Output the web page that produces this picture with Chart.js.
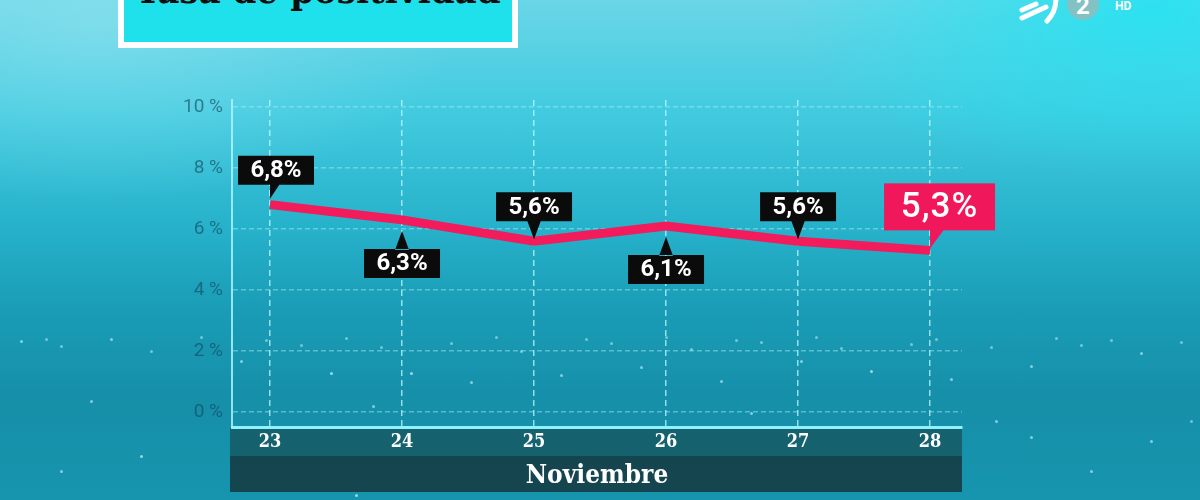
<!DOCTYPE html>
<html lang="es">
<head>
<meta charset="utf-8">
<title>Tasa de positividad</title>
<script src="https://cdn.jsdelivr.net/npm/chart.js@4.4.1/dist/chart.umd.min.js"></script>
<style>
    html, body { margin: 0; padding: 0; }
    body {
        width: 1200px; height: 500px; overflow: hidden; position: relative;
        background:
            radial-gradient(ellipse 520px 260px at 8% 4%, rgba(160, 232, 242, 0.45), rgba(160, 232, 242, 0) 70%),
            radial-gradient(ellipse 520px 240px at 96% 2%, rgba(30, 228, 242, 0.8), rgba(30, 228, 242, 0) 70%),
            linear-gradient(180deg, #6ad6e7 0%, #42cbe0 22%, #27b2cb 45%, #1a9cb6 62%, #168fa9 80%, #1795ae 100%);
    }
    #brillos {
        position: absolute; left: 0; top: 0; width: 3px; height: 3px; border-radius: 50%;
        background: transparent;
        box-shadow:
            20px 340px 0 rgba(200,250,255,.6), 60px 345px 0 rgba(200,250,255,.5), 110px 338px 0 rgba(200,250,255,.6),
            150px 350px 0 rgba(200,250,255,.5), 240px 360px 0 rgba(200,250,255,.6), 300px 344px 0 rgba(200,250,255,.5),
            330px 372px 0 rgba(200,250,255,.7), 380px 346px 0 rgba(200,250,255,.5), 410px 372px 0 rgba(200,250,255,.7),
            450px 342px 0 rgba(200,250,255,.5), 470px 381px 0 rgba(200,250,255,.6), 520px 350px 0 rgba(200,250,255,.5),
            560px 374px 0 rgba(200,250,255,.6), 610px 342px 0 rgba(200,250,255,.5), 640px 366px 0 rgba(200,250,255,.6),
            690px 348px 0 rgba(200,250,255,.5), 720px 380px 0 rgba(200,250,255,.6), 760px 341px 0 rgba(200,250,255,.5),
            800px 360px 0 rgba(200,250,255,.6), 840px 347px 0 rgba(200,250,255,.5), 870px 370px 0 rgba(200,250,255,.7),
            910px 343px 0 rgba(200,250,255,.5), 950px 378px 0 rgba(200,250,255,.6), 990px 346px 0 rgba(200,250,255,.5),
            1030px 365px 0 rgba(200,250,255,.6), 1080px 344px 0 rgba(200,250,255,.5), 1140px 352px 0 rgba(200,250,255,.6),
            1180px 341px 0 rgba(200,250,255,.5), 90px 400px 0 rgba(200,250,255,.6), 140px 455px 0 rgba(200,250,255,.7),
            60px 470px 0 rgba(200,250,255,.6), 995px 420px 0 rgba(200,250,255,.6), 1030px 436px 0 rgba(200,250,255,.6),
            1090px 470px 0 rgba(200,250,255,.6), 1150px 440px 0 rgba(200,250,255,.6), 1190px 420px 0 rgba(200,250,255,.5),
            355px 494px 0 rgba(200,250,255,.7), 750px 412px 0 rgba(200,250,255,.6), 372px 405px 0 rgba(200,250,255,.6),
            45px 338px 0 rgba(200,250,255,.5), 200px 336px 0 rgba(200,250,255,.5), 265px 339px 0 rgba(200,250,255,.5),
            345px 337px 0 rgba(200,250,255,.5), 495px 336px 0 rgba(200,250,255,.5), 585px 338px 0 rgba(200,250,255,.5),
            665px 336px 0 rgba(200,250,255,.5), 735px 339px 0 rgba(200,250,255,.5), 815px 336px 0 rgba(200,250,255,.5),
            935px 338px 0 rgba(200,250,255,.5), 1055px 337px 0 rgba(200,250,255,.5), 1110px 339px 0 rgba(200,250,255,.5);
    }
    #titulo {
        position: absolute; left: 118px; top: -20px; width: 388px; height: 56px;
        border: 6px solid #fff; background: #1fe1eb; overflow: hidden;
    }
    #titulo span {
        position: absolute; left: 0; right: 0; top: -15px; text-align: center;
        font: bold 38px/38px "DejaVu Serif Condensed", "DejaVu Serif", serif;
        color: #0d0d0d; white-space: nowrap;
    }
    #logo { position: absolute; left: 1010px; top: 0; }
    #grafico { position: absolute; left: 0; top: 0; }
</style>
</head>
<body>
<div id="brillos"></div>
<div id="titulo"><span>Tasa de positividad</span></div>
<svg id="logo" width="150" height="30" viewBox="0 0 150 30">
    <path d="M12 10 L26 4" stroke="#fff" stroke-width="5" stroke-linecap="round" fill="none"/>
    <path d="M12 18 L36 7" stroke="#fff" stroke-width="5" stroke-linecap="round" fill="none"/>
    <path d="M37 21 Q46 12 46 -2" stroke="#fff" stroke-width="5" stroke-linecap="round" fill="none"/>
    <circle cx="73" cy="4" r="16" fill="rgba(150,185,185,0.8)"/>
    <text x="73" y="14" text-anchor="middle" font-family="Roboto, sans-serif" font-weight="bold" font-size="24" fill="#fff">2</text>
    <text x="105" y="10" font-family="Roboto, sans-serif" font-weight="bold" font-size="12" fill="#fff">HD</text>
</svg>
<canvas id="grafico" width="1200" height="500"></canvas>

<script>
// Datos del gráfico
const dias = ['23', '24', '25', '26', '27', '28'];
const tasa = [6.8, 6.3, 5.6, 6.1, 5.6, 5.3];
const marcasEjeY = [0, 2, 4, 6, 8, 10];
const mes = 'Noviembre';

const FUENTE_SERIF = '"DejaVu Serif Condensed", "Liberation Serif", serif';

// Formato español: coma decimal
function formato(v) {
    return v.toFixed(1).replace('.', ',') + '%';
}

// Bandas oscuras bajo el eje X (días y mes)
const bandasPlugin = {
    id: 'bandas',
    beforeDraw(chart) {
        const ctx = chart.ctx;
        const area = chart.chartArea;
        ctx.save();
        ctx.fillStyle = 'rgba(22, 84, 92, 0.78)';
        ctx.fillRect(area.left - 2, area.bottom + 1, area.right - area.left + 2, 28);
        ctx.fillStyle = 'rgba(22, 62, 70, 0.92)';
        ctx.fillRect(area.left - 2, area.bottom + 29, area.right - area.left + 2, 36);
        ctx.restore();
    }
};

// Etiquetas de valor con flecha
const etiquetasPlugin = {
    id: 'etiquetas',
    afterDatasetsDraw(chart) {
        const ctx = chart.ctx;
        const meta = chart.getDatasetMeta(0);
        ctx.save();
        ctx.textAlign = 'center';
        ctx.textBaseline = 'middle';
        meta.data.forEach((pt, i) => {
            const x = pt.x, y = pt.y;
            const texto = formato(tasa[i]);
            const ultimo = i === tasa.length - 1;

            if (ultimo) {
                // último valor destacado en rosa
                const izq = x - 46, der = x + 65, arriba = y - 67, abajo = y - 20;
                ctx.fillStyle = '#f0185a';
                ctx.fillRect(izq, arriba, der - izq, abajo - arriba);
                ctx.beginPath();
                ctx.moveTo(x, abajo - 1);
                ctx.lineTo(x + 14, abajo - 1);
                ctx.lineTo(x, y - 2);
                ctx.closePath();
                ctx.fill();
                ctx.fillStyle = '#fff';
                ctx.font = '500 35px Roboto, sans-serif';
                ctx.letterSpacing = '1px';
                ctx.fillText(texto, (izq + der) / 2, (arriba + abajo) / 2 + 1);
                ctx.letterSpacing = '0px';
                return;
            }

            const ancho = 76, alto = 29;
            const encima = i % 2 === 0;
            let izq = x - ancho / 2;
            if (i === 0) izq = x - 32;
            ctx.fillStyle = '#0b0b0b';
            ctx.beginPath();
            if (encima) {
                const abajo = y - 20;
                ctx.rect(izq, abajo - alto, ancho, alto);
                if (i === 0) {
                    ctx.moveTo(x, abajo - 1);
                    ctx.lineTo(x + 10, abajo - 1);
                    ctx.lineTo(x, y - 6);
                } else {
                    ctx.moveTo(x - 7, abajo - 1);
                    ctx.lineTo(x + 7, abajo - 1);
                    ctx.lineTo(x, y - 2);
                }
                ctx.fill();
                ctx.fillStyle = '#fff';
                ctx.font = 'bold 24px Roboto, sans-serif';
                ctx.fillText(texto, izq + ancho / 2, abajo - alto / 2 + 1);
            } else {
                const arriba = y + 29;
                ctx.rect(izq, arriba, ancho, alto);
                ctx.moveTo(x - 7, arriba + 1);
                ctx.lineTo(x + 7, arriba + 1);
                ctx.lineTo(x, y + 11);
                ctx.fill();
                ctx.fillStyle = '#fff';
                ctx.font = 'bold 24px Roboto, sans-serif';
                ctx.fillText(texto, izq + ancho / 2, arriba + alto / 2 + 1);
            }
        });
        ctx.restore();
    }
};

const ctx = document.getElementById('grafico').getContext('2d');

new Chart(ctx, {
    type: 'line',
    data: {
        datasets: [{
            label: 'Tasa de positividad',
            data: tasa.map((v, i) => ({ x: i, y: v })),
            borderColor: '#f21b5b',
            borderWidth: 9,
            borderCapStyle: 'butt',
            borderJoinStyle: 'miter',
            pointRadius: 0,
            tension: 0,
            fill: false
        }]
    },
    options: {
        responsive: false,
        animation: false,
        events: [],
        layout: { padding: { top: 100, right: 238, left: 0, bottom: 0 } },
        plugins: {
            legend: { display: false },
            tooltip: { enabled: false }
        },
        scales: {
            x: {
                type: 'linear',
                min: -0.288,
                max: 5.242,
                afterFit(scale) { scale.height = 73; },
                afterBuildTicks(scale) { scale.ticks = dias.map((d, i) => ({ value: i })); },
                ticks: {
                    callback: (v) => dias[v],
                    color: '#ffffff',
                    font: { family: FUENTE_SERIF, size: 18, weight: 'bold' },
                    padding: 5,
                    maxRotation: 0,
                    autoSkip: false
                },
                grid: {
                    color: 'rgba(190, 250, 255, 0.75)',
                    lineWidth: 1.5,
                    drawTicks: false
                },
                border: {
                    display: true,
                    color: '#8ef2ff',
                    width: 3,
                    dash: [6, 4]
                },
                title: {
                    display: true,
                    text: mes,
                    color: '#ffffff',
                    font: { family: FUENTE_SERIF, size: 26, weight: 'bold' },
                    padding: { top: 0, bottom: 8 }
                }
            },
            y: {
                min: -0.49,
                max: 10.23,
                afterFit(scale) { scale.width = 232; },
                afterBuildTicks(scale) { scale.ticks = marcasEjeY.map(v => ({ value: v })); },
                ticks: {
                    callback: (v) => v + ' %',
                    color: 'rgba(20, 70, 90, 0.62)',
                    font: { family: 'Roboto, sans-serif', size: 19 },
                    padding: 9
                },
                grid: {
                    color: 'rgba(170, 240, 250, 0.45)',
                    lineWidth: 1.5,
                    drawTicks: false
                },
                border: {
                    display: true,
                    color: 'rgba(170, 245, 255, 0.85)',
                    width: 2,
                    dash: [5, 3]
                }
            }
        }
    },
    plugins: [bandasPlugin, etiquetasPlugin]
});
</script>
</body>
</html>
